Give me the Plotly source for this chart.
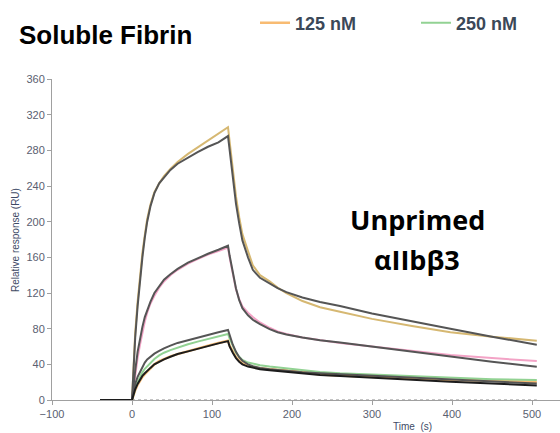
import plotly.graph_objects as go

# ---- data ----
t_assoc = [0, 2, 4, 7, 10, 13, 16, 19, 23, 28, 34, 40, 48, 57, 70, 82, 95, 108, 120]
t_dissoc = [122, 126, 130, 134, 138, 145, 151, 160, 172, 182, 193, 213, 235, 260, 300, 350, 398, 450, 506]
t_all = t_assoc + t_dissoc

gold = [0, 42, 75, 110, 140, 165, 185, 203, 219, 233, 243, 251, 259, 267, 276, 283, 291, 298, 306,
        290, 255, 228, 205, 186, 167, 151, 140, 133, 126, 120, 111, 104, 99, 91, 83, 76, 71, 66.5]
gold_fit = [0, 38, 70, 105, 135, 160, 182, 200, 217, 232, 243, 250, 258, 265, 272, 278, 284, 289, 296,
            280, 245, 220, 198, 179, 160, 146, 137, 131, 125.5, 121, 115, 110, 105.5, 97, 88, 80, 71, 62]
pink = [0, 15, 28, 47, 62, 76, 88, 98, 108, 117, 126, 133, 140, 146, 153, 158, 163, 167, 171,
        160, 140, 124, 113, 105, 98, 93, 87, 81, 77, 74, 70, 67, 64, 60, 55, 50.5, 47, 43.7]
pink_fit = [0, 18, 33, 54, 70, 82, 93, 101, 110, 120, 128, 135, 141, 147, 154, 159, 164, 168.5, 173,
            162, 142, 125, 112, 103, 95, 90, 85, 79.5, 76, 73.5, 70, 67, 64.5, 60, 54, 48.5, 43, 37.4]
green = [0, 7, 13, 20, 26, 31, 35, 38, 42, 46, 50, 53, 56, 59, 62.5, 65.5, 68.5, 71.5, 74,
         69, 60, 53, 48.5, 45, 42, 40.5, 39, 37.5, 36.5, 35.5, 34, 31.5, 30, 28.5, 26.5, 24.5, 23.3, 22.4]
green_fit = [0, 10, 18, 26, 32, 38, 42, 45.5, 48.5, 52, 55, 58, 61, 64, 67, 70, 73, 76, 78.5,
             72, 62, 54, 48, 44, 40, 38, 36, 34.5, 33.5, 32.5, 31, 30, 29, 27, 25, 22.8, 20.8, 18.5]
orange = [0, 6, 11, 17, 22, 26, 29, 32, 35, 40, 43.5, 46, 49, 51.5, 55, 58, 61, 64, 66.5,
          61, 54, 48, 44, 41, 38.5, 37, 35.5, 34.5, 33.5, 33, 31.5, 28.5, 27.5, 26, 24, 22.4, 21.5, 20.5]
orange_fit = [0, 7, 12, 18, 23, 27, 30, 33, 36, 40, 43, 45.5, 48.5, 51.5, 54.5, 57.5, 60.5, 63.5, 66,
              60, 53, 47, 43, 40, 37.5, 36, 34.5, 33.5, 32.5, 32, 30, 28, 27, 25, 23, 20.5, 18.5, 16.4]

t_base = [-40, 0]
v_base = [0, 0]
t_zero = [0, 506]
v_zero = [0, 0]

x_ticks = [-100, 0, 100, 200, 300, 400, 500]
y_ticks = [0, 40, 80, 120, 160, 200, 240, 280, 320, 360]

C_GOLD = "#d6b872"
C_PINK = "#f3a3c6"
C_GREEN = "#92d293"
C_ORANGE = "#f8bb72"
C_FIT = "#555555"
C_BLACK = "#1c1c1c"

W, H = 560, 433
ML, MR, MT, MB = 52, 0, 79, 33
PW, PH = W - ML - MR, H - MT - MB


def px_x(p):
    return (p - ML) / PW


def px_y(p):
    return (H - MB - p) / PH


fig = go.Figure()

fig.add_trace(go.Scatter(x=t_zero, y=v_zero, mode="lines", line=dict(color="#c4c4c4", width=2, dash="dot"),
                         showlegend=False, hoverinfo="skip"))
fig.add_trace(go.Scatter(x=t_base, y=v_base, mode="lines", line=dict(color=C_BLACK, width=2), showlegend=False))

fig.add_trace(go.Scatter(x=t_all, y=gold, mode="lines", line=dict(color=C_GOLD, width=2), showlegend=False))
fig.add_trace(go.Scatter(x=t_all, y=pink, mode="lines", line=dict(color=C_PINK, width=2), showlegend=False))
fig.add_trace(go.Scatter(x=t_all, y=orange, mode="lines", line=dict(color=C_ORANGE, width=2.5),
                         name="<b>125 nM</b>", showlegend=True, legend="legend"))
fig.add_trace(go.Scatter(x=t_all, y=green, mode="lines", line=dict(color=C_GREEN, width=2),
                         name="<b>250 nM</b>", showlegend=True, legend="legend2"))

fig.add_trace(go.Scatter(x=t_all, y=gold_fit, mode="lines", line=dict(color=C_FIT, width=2), showlegend=False))
fig.add_trace(go.Scatter(x=t_all, y=pink_fit, mode="lines", line=dict(color=C_FIT, width=2), showlegend=False))
fig.add_trace(go.Scatter(x=t_all, y=green_fit, mode="lines", line=dict(color=C_FIT, width=2), showlegend=False))
fig.add_trace(go.Scatter(x=t_all, y=orange_fit, mode="lines", line=dict(color=C_BLACK, width=2), showlegend=False))

leg_font = dict(size=18, color="#3b4858", family="Liberation Sans, Arial, sans-serif")
leg_common = dict(orientation="h", yref="paper", xanchor="left", yanchor="middle",
                  font=leg_font, bgcolor="rgba(0,0,0,0)", itemwidth=30)

fig.update_layout(
    width=W, height=H,
    margin=dict(l=ML, r=MR, t=MT, b=MB),
    paper_bgcolor="white", plot_bgcolor="white",
    font=dict(family="Liberation Sans, Arial, sans-serif"),
    legend=dict(x=px_x(255), y=px_y(23), **leg_common),
    legend2=dict(x=px_x(416), y=px_y(23), **leg_common),
    xaxis=dict(range=[-100, 535], tickvals=x_ticks, showgrid=False, zeroline=False,
               showline=True, linecolor="#a0a0a0", linewidth=1,
               ticks="outside", ticklen=4, tickcolor="#a0a0a0",
               tickfont=dict(size=11, color="#5a6070")),
    yaxis=dict(range=[0, 360], tickvals=y_ticks, showgrid=False, zeroline=False,
               showline=True, linecolor="#a0a0a0", linewidth=1,
               ticks="outside", ticklen=4, tickcolor="#a0a0a0",
               tickfont=dict(size=11, color="#5a6070")),
    annotations=[
        dict(text="<b>Soluble Fibrin</b>", x=px_x(17), y=px_y(35), xref="paper", yref="paper",
             showarrow=False, xanchor="left", yanchor="middle",
             font=dict(size=26, color="black", family="Liberation Sans, Arial, sans-serif")),
        dict(text="<b>Unprimed</b>", x=px_x(417), y=px_y(219), xref="paper", yref="paper",
             showarrow=False, xanchor="center", yanchor="middle",
             font=dict(size=27, color="black", family="Open Sans, sans-serif")),
        dict(text="<b>αIIbβ3</b>", x=px_x(417), y=px_y(259), xref="paper", yref="paper",
             showarrow=False, xanchor="center", yanchor="middle",
             font=dict(size=27, color="black", family="Open Sans, sans-serif")),
        dict(text="Time  (s)", x=px_x(412), y=px_y(427), xref="paper", yref="paper",
             showarrow=False, xanchor="center", yanchor="middle",
             font=dict(size=10, color="#3e4a66")),
        dict(text="Relative response (RU)", x=px_x(16), y=px_y(240), xref="paper", yref="paper",
             showarrow=False, xanchor="center", yanchor="middle", textangle=-90,
             font=dict(size=10, color="#3e4a66")),
    ],
)

fig.write_html("out.html")
